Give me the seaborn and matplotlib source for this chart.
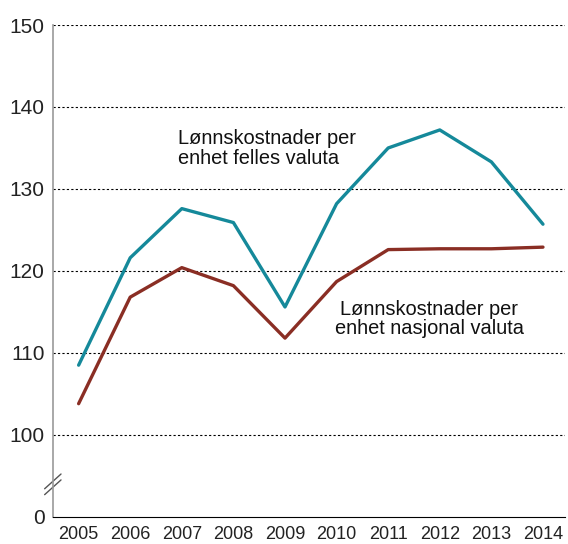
import seaborn as sns
import matplotlib.pyplot as plt
import pandas as pd

years = list(range(2005, 2015))
felles = [108.5, 121.6, 127.6, 125.9, 115.6, 128.2, 135.0, 137.2, 133.3, 125.7]
nasjonal = [103.8, 116.8, 120.4, 118.2, 111.8, 118.7, 122.6, 122.7, 122.7, 122.9]
ytick_vals = [90, 100, 110, 120, 130, 140, 150]
ytick_labels = ['0', '100', '110', '120', '130', '140', '150']

df = pd.DataFrame({'year': years, 'felles': felles, 'nasjonal': nasjonal})

sns.set_style('white')
plt.rcParams['font.family'] = ['Liberation Sans', 'DejaVu Sans']

fig = plt.figure(figsize=(5.68, 5.44), dpi=100)
ax = fig.add_axes([0.093, 0.05, 0.902, 0.904])

sns.lineplot(data=df, x='year', y='felles', color='#15899a', lw=2.4, ax=ax)
sns.lineplot(data=df, x='year', y='nasjonal', color='#8a2e24', lw=2.4, ax=ax)

ax.set_xlim(2004.5, 2014.43)
ax.set_ylim(90, 150)
ax.set_yticks(ytick_vals)
ax.set_yticklabels(ytick_labels)
ax.set_xticks(years)
ax.set_xticklabels([str(y) for y in years])
ax.set_xlabel('')
ax.set_ylabel('')

for v in ytick_vals[1:]:
    ax.axhline(v, color='black', lw=0.8, ls=(0, (2, 2)), zorder=0)

for s in ['top', 'right']:
    ax.spines[s].set_visible(False)
ax.spines['left'].set_color('#999999')
ax.spines['left'].set_linewidth(1.2)
ax.spines['bottom'].set_color('black')
ax.spines['bottom'].set_linewidth(0.8)
ax.spines['bottom'].set_linestyle((0, (2, 1)))

ax.tick_params(axis='y', length=0, pad=6, labelsize=15, colors='#222222')
ax.tick_params(axis='x', direction='in', length=10, width=1, color='#888888',
               pad=6.5, labelsize=13, labelcolor='#222222')

# axis break marks
for dy in [0, 0.012]:
    ax.plot([-0.016, 0.016], [0.045 + dy, 0.075 + dy], transform=ax.transAxes,
            color='#555555', lw=1, clip_on=False)

ax.text(2006.93, 137.3, 'Lønnskostnader per\nenhet felles valuta', fontsize=14.4,
        color='#111111', va='top', ha='left', linespacing=1.05)
ax.text(2011.8, 116.5, 'Lønnskostnader per\nenhet nasjonal valuta', fontsize=14.4,
        color='#111111', va='top', ha='center', multialignment='center',
        linespacing=1.05)

fig.savefig('out.png', dpi=100)
